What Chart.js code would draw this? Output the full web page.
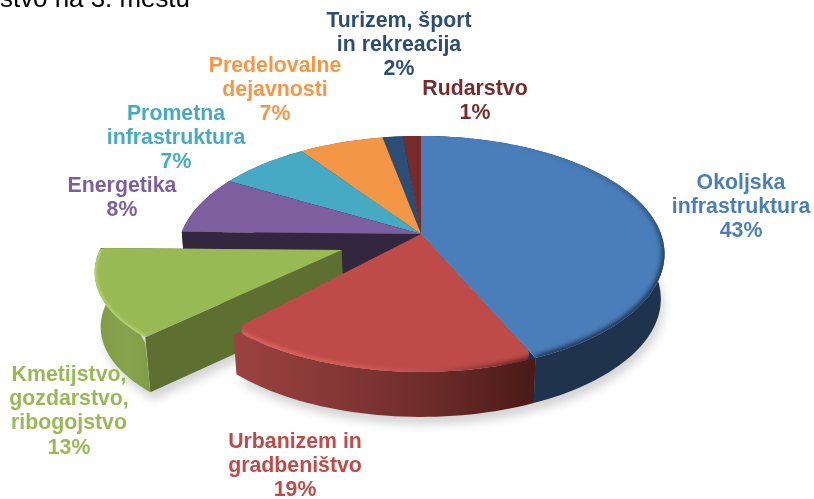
<!DOCTYPE html>
<html>
<head>
<meta charset="utf-8">
<style>
  html, body { margin: 0; padding: 0; background: #fff; overflow: hidden; }
  #wrap { width: 814px; height: 499px; position: relative; }
</style>
<script src="https://cdn.jsdelivr.net/npm/chart.js@4"></script>
</head>
<body>
<div id="wrap"><canvas id="chart"></canvas></div>
<script>
const categories = [
  ['Okoljska', 'infrastruktura'],
  ['Urbanizem in', 'gradbeništvo'],
  ['Kmetijstvo,', 'gozdarstvo,', 'ribogojstvo'],
  ['Energetika'],
  ['Prometna', 'infrastruktura'],
  ['Predelovalne', 'dejavnosti'],
  ['Turizem, šport', 'in rekreacija'],
  ['Rudarstvo']
];
const shares = [43.4, 18.6, 13.3, 8, 7.1, 6.6, 1.6, 1.4];
const topColors = ['#4a7ebb', '#be4b48', '#98b954', '#7d5fa0', '#46aac5', '#f39645', '#2c4d75', '#772c2a'];
const labelColors = ['#4a7ebb', '#be4b48', '#98b954', '#7d5fa0', '#46aac5', '#f79646', '#2c4d75', '#772c2a'];
const captionText = 'stvo na 3. mestu';

// label anchors: centre x, first line y
const labelAnchors = [[741, 183], [295, 442], [69, 375], [122, 186], [176, 114], [275, 66], [399, 21], [475, 89]];
const labelLineHeight = 24.3;

// fake 3D view of the pie plane
const view = { cx: 421, cy: 234, rx: 240, ry: 114.6, persp: 0.169, depth: 45, shrink: 0.015 };
const explodedIndex = 2;
const explodeBy = 0.35;
const explodedRim = 0.985;
const explodedSquash = 0.9;
const explodedDepth = 1.22;

function project(u, v, z) {
  const s = 1 / (1 - view.persp * v);
  return [view.cx + view.rx * u * s * (1 - view.shrink * z), view.cy + view.ry * v * s + view.depth * z];
}

function sliceGeometry(arc, i) {
  // chart.js angles start at -PI/2, we want 0 at the top going clockwise
  const a0 = arc.startAngle + Math.PI / 2;
  const a1 = arc.endAngle + Math.PI / 2;
  const mid = (a0 + a1) / 2;
  const hit = i === explodedIndex;
  const off = hit ? explodeBy : 0;
  const r = hit ? explodedRim : 1;
  const sq = hit ? explodedSquash : 1;
  const ox = off * Math.sin(mid);
  const oy = -off * Math.cos(mid);
  const steps = Math.max(2, Math.ceil((a1 - a0) / 0.03));
  const rim = [];
  for (let k = 0; k <= steps; k++) {
    const a = a0 + (a1 - a0) * k / steps;
    rim.push([r * Math.sin(a) + ox, -r * sq * Math.cos(a) + oy]);
  }
  return { a0, a1, mid, apex: [ox, oy], rim };
}

function tracePoly(ctx, pts) {
  ctx.beginPath();
  pts.forEach((p, k) => (k ? ctx.lineTo(p[0], p[1]) : ctx.moveTo(p[0], p[1])));
  ctx.closePath();
}

function topPath(ctx, g, rounded) {
  const pts = g.rim.map(p => project(p[0], p[1], 0));
  const apex = project(g.apex[0], g.apex[1], 0);
  ctx.beginPath();
  ctx.moveTo(apex[0], apex[1]);
  if (rounded) {
    ctx.arcTo(pts[0][0], pts[0][1], pts[2][0], pts[2][1], 7);
    for (let k = 2; k < pts.length - 2; k++) ctx.lineTo(pts[k][0], pts[k][1]);
    const last = pts[pts.length - 1];
    ctx.arcTo(last[0], last[1], apex[0], apex[1], 7);
  } else {
    pts.forEach(p => ctx.lineTo(p[0], p[1]));
  }
  ctx.closePath();
}

function wall(ctx, pairs, fill, zBottom, dropFirst, dropLast) {
  const top = pairs.map(p => project(p[0], p[1], 0));
  if (dropFirst) top[0][1] += dropFirst;
  if (dropLast) top[top.length - 1][1] += dropLast;
  const bottom = pairs.map(p => project(p[0], p[1], zBottom)).reverse();
  tracePoly(ctx, top.concat(bottom));
  ctx.fillStyle = fill;
  ctx.fill();
}

function hGrad(ctx, x0, x1, stops) {
  const gr = ctx.createLinearGradient(x0, 0, x1, 0);
  stops.forEach((c, k) => gr.addColorStop(k / (stops.length - 1), c));
  return gr;
}

function rimLight(ctx, g, style, width, blur, rounded) {
  ctx.save();
  topPath(ctx, g, rounded);
  ctx.clip();
  ctx.filter = 'blur(' + blur + 'px)';
  ctx.strokeStyle = style;
  ctx.lineWidth = width;
  ctx.beginPath();
  g.rim.forEach((p, k) => {
    const q = project(p[0], p[1], 0);
    if (k) ctx.lineTo(q[0], q[1]); else ctx.moveTo(q[0], q[1]);
  });
  ctx.stroke();
  ctx.restore();
}

const pie3d = {
  id: 'pie3d',
  beforeDatasetsDraw(chart) {
    const ctx = chart.ctx;
    const arcs = chart.getDatasetMeta(0).data;
    const geo = arcs.map((arc, i) => sliceGeometry(arc, i));

    // soft ground shadow
    ctx.save();
    ctx.filter = 'blur(5px)';
    ctx.fillStyle = 'rgba(0,0,0,0.17)';
    geo.forEach((g, i) => {
      const z = i === explodedIndex ? explodedDepth + 0.1 : 1.1;
      const pts = g.rim.map(p => project(p[0], p[1], z));
      const apex = project(g.apex[0], g.apex[1], z);
      tracePoly(ctx, [apex].concat(pts).map(p => [p[0] + 3, p[1] + 3]));
      ctx.fill();
    });
    ctx.restore();

    const wallFill = [
      '#1f334d',
      hGrad(ctx, 235, 533, ['#9c4240', '#853836', '#6c2b29', '#4a1a18']),
      hGrad(ctx, 95, 160, ['#7f9c46', '#86a44c', '#7d9a44']),
      '#33263f', '#2a6a7c', '#a05a20', '#1a2f48', '#4a1a18'
    ];
    const radialFill = ['#1f334d', null, '#5d7032', '#33263f', '#2a6a7c', '#a05a20', '#1a2f48', '#4a1a18'];

    // back slices first, then the pulled out one, red sits in front of it
    const order = [7, 6, 5, 4, 3, 0, 2, 1];
    order.forEach(i => {
      const g = geo[i];
      const first = g.rim[0];
      const last = g.rim[g.rim.length - 1];
      const zBottom = i === explodedIndex ? explodedDepth : 1;
      if (radialFill[i]) {
        wall(ctx, [g.apex, first], radialFill[i], zBottom);
        wall(ctx, [g.apex, last], radialFill[i], zBottom);
      }
      const rounded = i === 1 || i === 2;
      wall(ctx, g.rim, wallFill[i], zBottom, i === 2 ? 6 : 0, i === 1 ? 6 : 0);
      topPath(ctx, g, rounded);
      ctx.fillStyle = topColors[i];
      ctx.fill();
    });

    // bevel along the rims
    const blueEdge = ctx.createLinearGradient(0, 140, 0, 270);
    blueEdge.addColorStop(0, 'rgba(21,38,61,0)');
    blueEdge.addColorStop(1, 'rgba(21,38,61,1)');
    rimLight(ctx, geo[0], blueEdge, 5, 2.5, false);
    rimLight(ctx, geo[1], hGrad(ctx, 235, 533, ['#e06a66', '#dc625e', '#b8504c', '#4a1a18']), 5, 2, true);
    rimLight(ctx, geo[2], '#b5d46c', 4, 1.5, true);
    return false;
  },
  afterDraw(chart) {
    const ctx = chart.ctx;
    ctx.save();
    ctx.textAlign = 'center';
    ctx.textBaseline = 'middle';
    ctx.font = 'bold 21.3px "Liberation Sans", Arial, sans-serif';
    categories.forEach((lines, i) => {
      const rows = lines.concat(Math.round(shares[i]) + '%');
      ctx.fillStyle = labelColors[i];
      rows.forEach((row, k) => {
        ctx.fillText(row, labelAnchors[i][0], labelAnchors[i][1] + k * labelLineHeight);
      });
    });
    ctx.textAlign = 'left';
    ctx.textBaseline = 'alphabetic';
    ctx.fillStyle = '#000';
    ctx.font = '25.9px "Liberation Sans", Arial, sans-serif';
    ctx.fillText(captionText, 0, 7);
    ctx.restore();
  }
};

new Chart(document.getElementById('chart'), {
  type: 'pie',
  data: {
    labels: categories.map(c => c.join(' ')),
    datasets: [{ data: shares, backgroundColor: topColors, borderWidth: 0 }]
  },
  options: {
    responsive: true,
    maintainAspectRatio: false,
    animation: false,
    plugins: { legend: { display: false }, tooltip: { enabled: false } }
  },
  plugins: [pie3d]
});
</script>
</body>
</html>
